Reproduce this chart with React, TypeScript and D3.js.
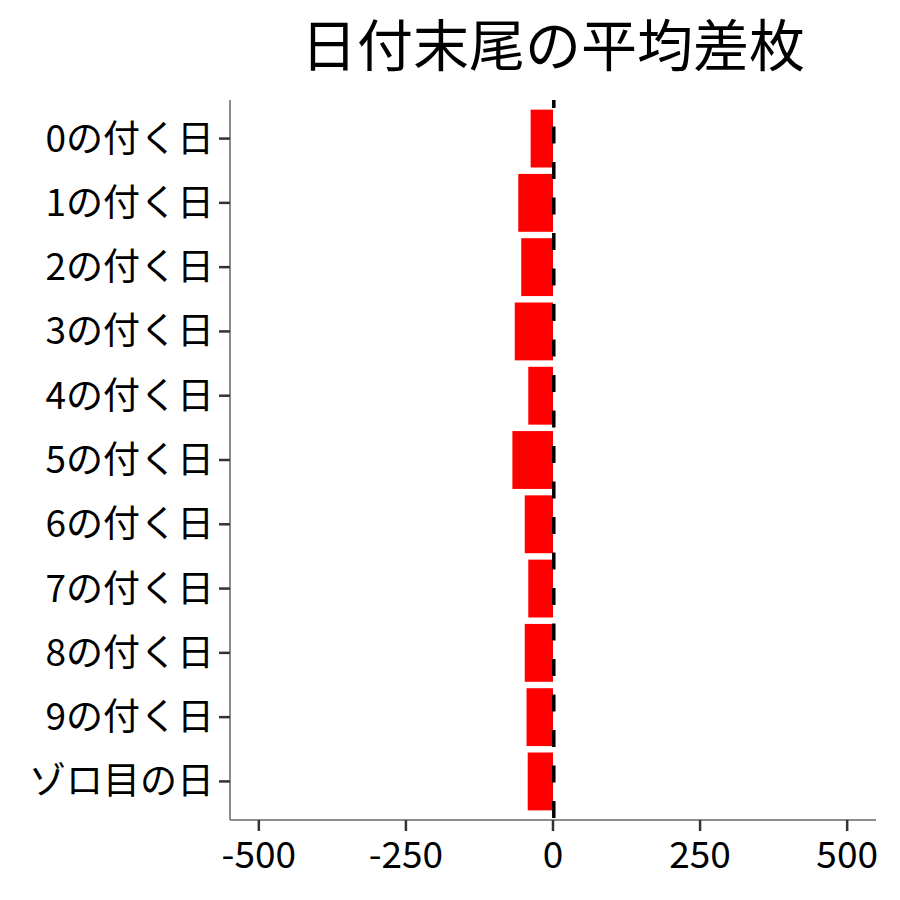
import * as d3 from "d3";

const categories = [
  "0の付く日",
  "1の付く日",
  "2の付く日",
  "3の付く日",
  "4の付く日",
  "5の付く日",
  "6の付く日",
  "7の付く日",
  "8の付く日",
  "9の付く日",
  "ゾロ目の日",
];
const avgDiff = [-38, -59, -54, -65, -42, -69, -48, -42, -48, -45, -43];
const xTicks = [-500, -250, 0, 250, 500];
const title = "日付末尾の平均差枚";

const App = () => {
  const width = 900;
  const height = 900;
  const margin = { top: 100, right: 24, bottom: 80, left: 230 };
  const font = "'Noto Sans CJK JP', 'Noto Sans', sans-serif";

  const x = d3
    .scaleLinear()
    .domain([-549, 549])
    .range([margin.left, width - margin.right]);

  const y = d3
    .scaleBand()
    .domain(categories)
    .range([margin.top, height - margin.bottom])
    .paddingInner(0.1)
    .paddingOuter(0.15);

  const bottom = height - margin.bottom;
  const rows = categories.map((c, i) => ({ c, v: avgDiff[i] }));

  return (
    <svg
      width={width}
      height={height}
      style={{ position: "absolute", left: 0, top: 0, background: "#fff" }}
    >
      <text
        x={(margin.left + width - margin.right) / 2}
        y={66}
        textAnchor="middle"
        fontFamily={font}
        fontSize={56}
        fill="#000"
      >
        {title}
      </text>

      {rows.map((d) => (
        <rect
          key={d.c}
          x={x(Math.min(0, d.v))}
          y={y(d.c)}
          width={Math.abs(x(d.v) - x(0))}
          height={y.bandwidth()}
          fill="#ff0000"
        />
      ))}

      {/* zero reference line */}
      <line
        x1={x(0) + 0.8}
        x2={x(0) + 0.8}
        y1={margin.top}
        y2={bottom}
        stroke="#000"
        strokeWidth={3.5}
        strokeDasharray="17 18.5"
        strokeDashoffset={9}
      />

      {/* axes */}
      <line
        x1={margin.left}
        x2={margin.left}
        y1={margin.top}
        y2={bottom}
        stroke="#666"
        strokeWidth={1.5}
      />
      <line
        x1={margin.left}
        x2={width - margin.right}
        y1={bottom}
        y2={bottom}
        stroke="#666"
        strokeWidth={1.5}
      />

      {categories.map((c) => {
        const cy = (y(c) || 0) + y.bandwidth() / 2;
        return (
          <g key={c}>
            <line
              x1={margin.left - 11}
              x2={margin.left}
              y1={cy}
              y2={cy}
              stroke="#333"
              strokeWidth={2.5}
            />
            <text
              x={margin.left - 16}
              y={cy}
              dy="0.35em"
              textAnchor="end"
              fontFamily={font}
              fontSize={37}
              fill="#000"
            >
              {c}
            </text>
          </g>
        );
      })}

      {xTicks.map((t) => (
        <g key={t}>
          <line
            x1={x(t)}
            x2={x(t)}
            y1={bottom}
            y2={bottom + 11}
            stroke="#333"
            strokeWidth={2.5}
          />
          <text
            x={x(t)}
            y={868}
            textAnchor="middle"
            fontFamily={font}
            fontSize={37}
            fill="#000"
          >
            {t}
          </text>
        </g>
      ))}
    </svg>
  );
};

export default App;
